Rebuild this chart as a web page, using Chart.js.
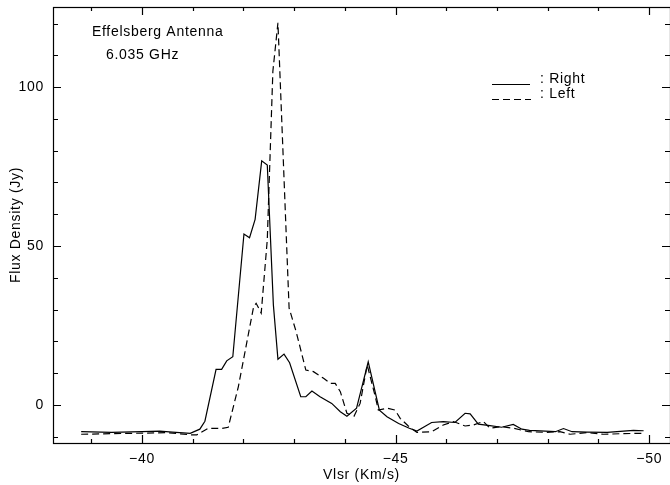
<!DOCTYPE html>
<html>
<head>
<meta charset="utf-8">
<script src="https://cdn.jsdelivr.net/npm/chart.js@4.4.1/dist/chart.umd.min.js"></script>
<style>
  html, body { margin: 0; padding: 0; background: #fff; }
  canvas { display: block; }
</style>
</head>
<body>
<canvas id="spectrum" width="670" height="485"></canvas>
<script>
// Right circular polarisation (solid)
const rightVel = [-38.80, -39.40, -40.00, -40.35, -40.60, -40.95, -41.14, -41.24, -41.46, -41.57,
  -41.67, -41.79, -42.01, -42.12, -42.23, -42.36, -42.47, -42.59, -42.68, -42.80,
  -42.91, -43.13, -43.23, -43.35, -43.51, -43.74, -43.91, -44.04, -44.23, -44.46,
  -44.68, -44.83, -45.06, -45.27, -45.42, -45.71, -45.94, -46.17, -46.37, -46.47,
  -46.63, -46.86, -47.09, -47.32, -47.49, -47.64, -47.95, -48.15, -48.31, -48.48,
  -48.77, -49.17, -49.43, -49.69, -49.89];
const rightFlux = [-8.4, -8.6, -8.4, -8.2, -8.5, -8.9, -7.6, -5.1, 11.2, 11.2,
  13.9, 15.2, 53.8, 52.6, 58.4, 76.8, 75.5, 31.5, 14.4, 16.0,
  13.3, 2.6, 2.6, 4.4, 2.6, 0.5, -2.1, -3.5, -1.0, 13.6,
  -1.6, -3.7, -5.8, -7.3, -8.2, -5.5, -5.2, -5.5, -2.6, -2.8,
  -6.0, -6.5, -7.0, -6.1, -7.6, -8.0, -8.2, -8.4, -7.4, -8.4,
  -8.5, -8.6, -8.3, -8.0, -8.1];

// Left circular polarisation (dashed)
const leftVel = [-38.80, -40.49, -40.98, -41.08, -41.31, -41.57, -41.70, -41.90, -42.20, -42.25,
  -42.35, -42.47, -42.58, -42.68, -42.90, -43.04, -43.23, -43.38, -43.58, -43.71,
  -43.81, -43.91, -44.04, -44.18, -44.30, -44.44, -44.60, -44.66, -44.83, -44.99,
  -45.09, -45.25, -45.42, -45.71, -45.94, -46.14, -46.37, -46.53, -46.73, -46.86,
  -47.09, -47.32, -47.62, -47.95, -48.24, -48.44, -48.77, -49.10, -49.49, -49.79,
  -49.88];
const leftFlux = [-9.2, -8.7, -9.4, -9.4, -7.3, -7.4, -7.0, 5.8, 30.9, 32.0,
  28.9, 52.0, 105.0, 120.2, 30.5, 23.0, 11.0, 10.5, 8.4, 6.8,
  6.8, 4.2, -2.6, -3.5, 0.5, 12.6, 2.6, -1.6, -1.0, -1.6,
  -4.2, -6.6, -8.6, -8.4, -6.3, -5.2, -6.6, -6.3, -5.2, -7.3,
  -6.8, -7.3, -8.4, -8.6, -8.4, -9.2, -8.7, -9.2, -9.0, -8.9,
  -8.9];

const xTicks = [-40, -45, -50];
const xTickLabels = ['\u221240', '\u221245', '\u221250'];
const yTicks = [0, 50, 100];
const yTickLabels = ['0', '50', '100'];

const FONT = 'Liberation Sans';
const INK = '#000';

function toPoints(xs, ys) {
  return xs.map((x, i) => ({ x: x, y: ys[i] }));
}

// frame with inward ticks, plus the annotations
const framePlugin = {
  id: 'frame',
  beforeDraw(chart) {
    chart.ctx.letterSpacing = '0.7px';
  },
  afterDraw(chart) {
    const ctx = chart.ctx;
    const a = chart.chartArea;
    const xs = chart.scales.x, ys = chart.scales.y;
    ctx.save();
    ctx.strokeStyle = INK;
    ctx.lineWidth = 1.2;
    ctx.strokeRect(a.left + 0.5, a.top + 0.5, a.right - a.left, a.bottom - a.top);

    ctx.beginPath();
    for (let v = -39; v >= -50; v--) {
      const px = Math.round(xs.getPixelForValue(v)) + 0.5;
      const len = (v % 5 === 0) ? 8 : 4;
      ctx.moveTo(px, a.bottom); ctx.lineTo(px, a.bottom - len);
      ctx.moveTo(px, a.top); ctx.lineTo(px, a.top + len);
    }
    for (let v = -10; v <= 120; v += 10) {
      const py = Math.round(ys.getPixelForValue(v)) + 0.5;
      const len = (v % 50 === 0) ? 8 : 5;
      ctx.moveTo(a.left, py); ctx.lineTo(a.left + len, py);
      ctx.moveTo(a.right, py); ctx.lineTo(a.right - len, py);
    }
    ctx.stroke();

    ctx.fillStyle = INK;
    ctx.font = '14px "' + FONT + '"';
    ctx.textBaseline = 'middle';
    ctx.fillText('Effelsberg Antenna', 92, 32);
    ctx.fillText('6.035 GHz', 106, 55);

    // legend
    ctx.lineWidth = 1.2;
    ctx.beginPath();
    ctx.moveTo(492, 84.5); ctx.lineTo(530, 84.5);
    ctx.stroke();
    ctx.setLineDash([7, 4]);
    ctx.beginPath();
    ctx.moveTo(492, 99.5); ctx.lineTo(531, 99.5);
    ctx.stroke();
    ctx.setLineDash([]);
    ctx.fillText(': Right', 540, 79);
    ctx.fillText(': Left', 540, 94);
    ctx.restore();
  }
};

new Chart(document.getElementById('spectrum'), {
  type: 'line',
  data: {
    datasets: [
      {
        label: 'Right',
        data: toPoints(rightVel, rightFlux),
        borderColor: INK,
        borderWidth: 1.2,
        pointRadius: 0,
        tension: 0
      },
      {
        label: 'Left',
        data: toPoints(leftVel, leftFlux),
        borderColor: INK,
        borderWidth: 1.2,
        borderDash: [7, 4],
        pointRadius: 0,
        tension: 0
      }
    ]
  },
  options: {
    responsive: false,
    animation: false,
    devicePixelRatio: 1,
    layout: { padding: { top: 7, right: 0, left: 0, bottom: 0 } },
    plugins: { legend: { display: false }, tooltip: { enabled: false } },
    scales: {
      x: {
        type: 'linear',
        reverse: true,
        min: -50.41,
        max: -38.245,
        afterBuildTicks: s => { s.ticks = xTicks.map(v => ({ value: v })); },
        afterFit: s => { s.height = 42; s.paddingLeft = 0; s.paddingRight = 0; },
        grid: { display: false, drawTicks: false },
        border: { display: false },
        ticks: {
          padding: 8,
          color: INK,
          font: { family: FONT, size: 14 },
          maxRotation: 0,
          callback: v => xTickLabels[xTicks.indexOf(v)]
        },
        title: {
          display: true,
          text: 'Vlsr (Km/s)',
          color: INK,
          font: { family: FONT, size: 14, lineHeight: 1.2 },
          padding: { top: 0, bottom: 1.5 }
        }
      },
      y: {
        type: 'linear',
        min: -11.95,
        max: 125.2,
        afterBuildTicks: s => { s.ticks = yTicks.map(v => ({ value: v })); },
        afterFit: s => { s.width = 53; s.paddingTop = 0; s.paddingBottom = 0; },
        grid: { display: false, drawTicks: false },
        border: { display: false },
        ticks: {
          padding: 9,
          color: INK,
          font: { family: FONT, size: 14 },
          callback: v => yTickLabels[yTicks.indexOf(v)]
        },
        title: {
          display: true,
          text: 'Flux Density (Jy)',
          color: INK,
          font: { family: FONT, size: 14, lineHeight: 1.2 },
          padding: { top: 8, bottom: 0 }
        }
      }
    }
  },
  plugins: [framePlugin]
});
</script>
</body>
</html>
